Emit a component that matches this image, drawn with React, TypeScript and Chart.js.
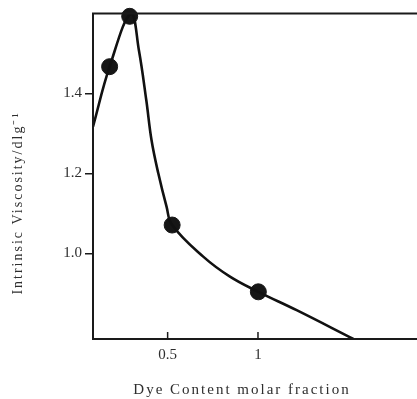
import React, { useEffect, useRef } from "react";
import { Chart, registerables } from "chart.js";

Chart.register(...registerables);

// Smooth curve (x: dye content molar fraction, y: intrinsic viscosity)
const curveX = [0.087, 0.179, 0.297, 0.341, 0.382, 0.411, 0.448, 0.494, 0.525, 0.697, 0.845, 1.002, 1.214, 1.528];
const curveY = [1.317, 1.467, 1.6, 1.508, 1.383, 1.283, 1.201, 1.117, 1.071, 0.992, 0.942, 0.904, 0.858, 0.786];

// Measured points (filled circles)
const pointX = [0.179, 0.29, 0.525, 1.002];
const pointY = [1.467, 1.593, 1.071, 0.904];

const xTicks = [0.5, 1];
const xTickLabels = ["0.5", "1"];
const yTicks = [1.0, 1.2, 1.4];
const yTickLabels = ["1.0", "1.2", "1.4"];

const X_MIN = 0.087;
const X_MAX = 1.88;
const Y_MIN = 0.786;
const Y_MAX = 1.6;

const xTitle = "Dye Content molar fraction";
const yTitle = "Intrinsic Viscosity/dlg⁻¹";

const FONT = "'Liberation Serif', 'Times New Roman', serif";
const TEXT_COLOR = "#2e2e2e";

const framePlugin = {
  id: "frame",
  afterDraw(chart: any) {
    const { ctx, chartArea } = chart;
    const { left, right, top, bottom } = chartArea;
    ctx.save();
    ctx.strokeStyle = "#1a1a1a";
    ctx.lineWidth = 2;
    ctx.beginPath();
    ctx.moveTo(right, top);
    ctx.lineTo(left, top);
    ctx.lineTo(left, bottom);
    ctx.lineTo(right, bottom);
    ctx.stroke();
    // inward x ticks
    const xs = chart.scales.x;
    ctx.lineWidth = 1.5;
    xTicks.forEach((v) => {
      const px = xs.getPixelForValue(v);
      ctx.beginPath();
      ctx.moveTo(px, bottom);
      ctx.lineTo(px, bottom - 7);
      ctx.stroke();
    });
    // titles
    ctx.fillStyle = TEXT_COLOR;
    ctx.font = `15px ${FONT}`;
    (ctx as any).letterSpacing = "2px";
    ctx.textAlign = "center";
    ctx.textBaseline = "middle";
    ctx.fillText(xTitle, 242, 390);
    ctx.translate(18, 203);
    ctx.rotate(-Math.PI / 2);
    ctx.font = `14px ${FONT}`;
    (ctx as any).letterSpacing = "2px";
    ctx.fillText(yTitle, 0, 0);
    ctx.restore();
  },
};

export default function App() {
  const ref = useRef<HTMLCanvasElement>(null);
  useEffect(() => {
    if (!ref.current) return;
    const chart = new Chart(ref.current, {
      type: "line",
      data: {
        datasets: [
          {
            data: curveX.map((x, i) => ({ x, y: curveY[i] })),
            borderColor: "#111",
            borderWidth: 2.6,
            pointRadius: 0,
            tension: 0.4,
            fill: false,
          },
          {
            data: pointX.map((x, i) => ({ x, y: pointY[i] })),
            showLine: false,
            pointRadius: 8,
            pointBackgroundColor: "#161616",
            pointBorderColor: "#161616",
            pointBorderWidth: 1,
            clip: false as any,
          },
        ],
      },
      options: {
        animation: false,
        responsive: false,
        devicePixelRatio: 1,
        events: [],
        layout: { autoPadding: false, padding: { top: 13.5, right: 0, left: 0, bottom: 0 } },
        plugins: { legend: { display: false }, tooltip: { enabled: false } },
        scales: {
          x: {
            type: "linear",
            min: X_MIN,
            max: X_MAX,
            afterBuildTicks: (s: any) => {
              s.ticks = xTicks.map((value) => ({ value }));
            },
            afterFit: (s: any) => {
              s.height = 60;
              s.paddingLeft = 0;
              s.paddingRight = 0;
            },
            ticks: {
              callback: (v: any) => xTickLabels[xTicks.indexOf(Number(v))] ?? "",
              color: TEXT_COLOR,
              font: { family: FONT, size: 15 },
              padding: 7,
              maxRotation: 0,
              autoSkip: false,
            },
            grid: { display: true, drawOnChartArea: false, drawTicks: false, color: "transparent" },
            border: { display: false },
          },
          y: {
            type: "linear",
            min: Y_MIN,
            max: Y_MAX,
            afterBuildTicks: (s: any) => {
              s.ticks = yTicks.map((value) => ({ value }));
            },
            afterFit: (s: any) => {
              s.width = 93;
              s.paddingTop = 0;
              s.paddingBottom = 0;
            },
            ticks: {
              callback: (v: any) => {
                const i = yTicks.findIndex((t) => Math.abs(t - Number(v)) < 1e-6);
                return i >= 0 ? yTickLabels[i] : "";
              },
              color: TEXT_COLOR,
              font: { family: FONT, size: 15 },
              padding: 3,
              autoSkip: false,
            },
            grid: { drawOnChartArea: false, drawTicks: true, tickLength: 8, color: "#1a1a1a", lineWidth: 1.5 },
            border: { display: false },
          },
        },
      },
      plugins: [framePlugin],
    });
    return () => chart.destroy();
  }, []);
  return (
    <div style={{ position: "absolute", left: 0, top: 0, width: 417, height: 399, background: "#fff" }}>
      <canvas ref={ref} width={417} height={399} />
    </div>
  );
}
